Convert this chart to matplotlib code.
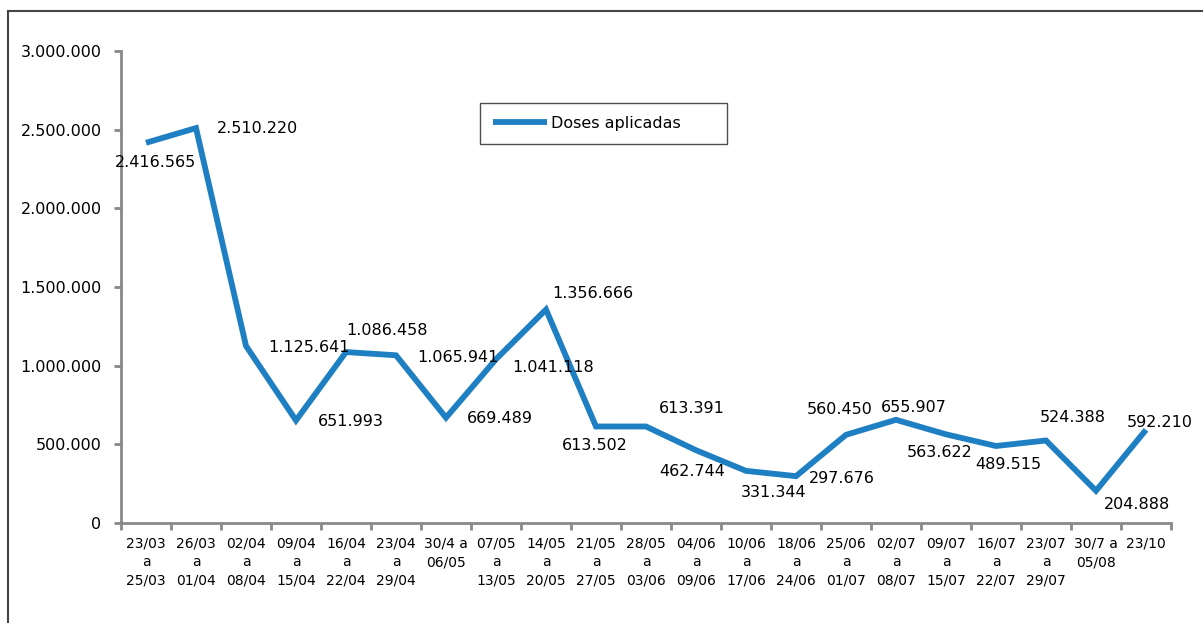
import numpy as np
import matplotlib
matplotlib.use("Agg")
import matplotlib.pyplot as plt
from matplotlib.patches import Rectangle
from matplotlib.ticker import FixedLocator, FuncFormatter

# weekly periods
periods = ["23/03\na\n25/03", "26/03\na\n01/04", "02/04\na\n08/04", "09/04\na\n15/04",
           "16/04\na\n22/04", "23/04\na\n29/04", "30/4 a\n06/05\n", "07/05\na\n13/05",
           "14/05\na\n20/05", "21/05\na\n27/05", "28/05\na\n03/06", "04/06\na\n09/06",
           "10/06\na\n17/06", "18/06\na\n24/06", "25/06\na\n01/07", "02/07\na\n08/07",
           "09/07\na\n15/07", "16/07\na\n22/07", "23/07\na\n29/07", "30/7 a\n05/08\n",
           "23/10\n\n"]

# doses aplicadas
doses = [2416565, 2510220, 1125641, 651993, 1086458, 1065941, 669489, 1041118,
         1356666, 613502, 613391, 462744, 331344, 297676, 560450, 655907,
         563622, 489515, 524388, 204888, 592210]

# label offsets (pixels) as placed in the original chart
lbl_dx = [9, 62, 63, 55, 41, 62, 54, 57, 47, -1, 46, -4, 28, 46, -6, 18, -6, 12, 27, 41, 14]
lbl_dy = [-20, 0, -2, -1, 22, -2, -1, -8, 16, -19, 18, -21, -22, -2, 25, 12, -18, -19, 23, -14, 7]


def br(v, pos=None):
    return f"{int(v):,}".replace(",", ".")


W, H = 1203, 623
fig = plt.figure(figsize=(W / 100, H / 100), dpi=100)
ax = fig.add_axes([121 / W, 1 - 523 / H, 1050 / W, 472 / H])

x = np.arange(len(doses))
ax.plot(x, doses, color="#1f7fc3", linewidth=4.2, label="Doses aplicadas",
        solid_joinstyle="miter", solid_capstyle="butt")

for i, v in enumerate(doses):
    ax.annotate(br(v), (x[i], v), xytext=(lbl_dx[i], lbl_dy[i]),
                textcoords="offset pixels", ha="center", va="center",
                fontsize=11.5, color="black")

ax.set_xlim(-0.5, len(doses) - 0.5)
ax.set_ylim(0, 3000000)
ax.set_yticks(np.arange(0, 3000001, 500000))
ax.yaxis.set_major_formatter(FuncFormatter(br))

ax.set_xticks(x)
ax.set_xticklabels(periods, fontsize=10, linespacing=1.4, va="top")
ax.xaxis.set_minor_locator(FixedLocator(np.arange(-0.5, len(doses), 1)))
ax.tick_params(axis="x", which="major", length=0, pad=10)
ax.tick_params(axis="x", which="minor", length=5, width=2, color="#888888")
ax.tick_params(axis="y", length=5, width=2, color="#888888", labelsize=11.5, pad=9)

for s in ["top", "right"]:
    ax.spines[s].set_visible(False)
for s in ["left", "bottom"]:
    ax.spines[s].set_color("#888888")
    ax.spines[s].set_linewidth(2)

leg = fig.legend(loc="upper left", bbox_to_anchor=(480 / W, 1 - 150 / H, 247 / W, 47 / H),
                 mode="expand", borderaxespad=0, fontsize=11.5, frameon=True,
                 fancybox=False, handlelength=3.4, handletextpad=0.25, borderpad=0.8)
leg.get_frame().set_edgecolor("#222222")
leg.get_frame().set_linewidth(1)

# outer chart border (cut off at right and bottom)
fig.patches.append(Rectangle((8 / W, -0.2), 1.5, 1.2 - 11 / H, transform=fig.transFigure,
                             fill=False, edgecolor="#444444", linewidth=1.5))

fig.savefig("out.png", dpi=100)
